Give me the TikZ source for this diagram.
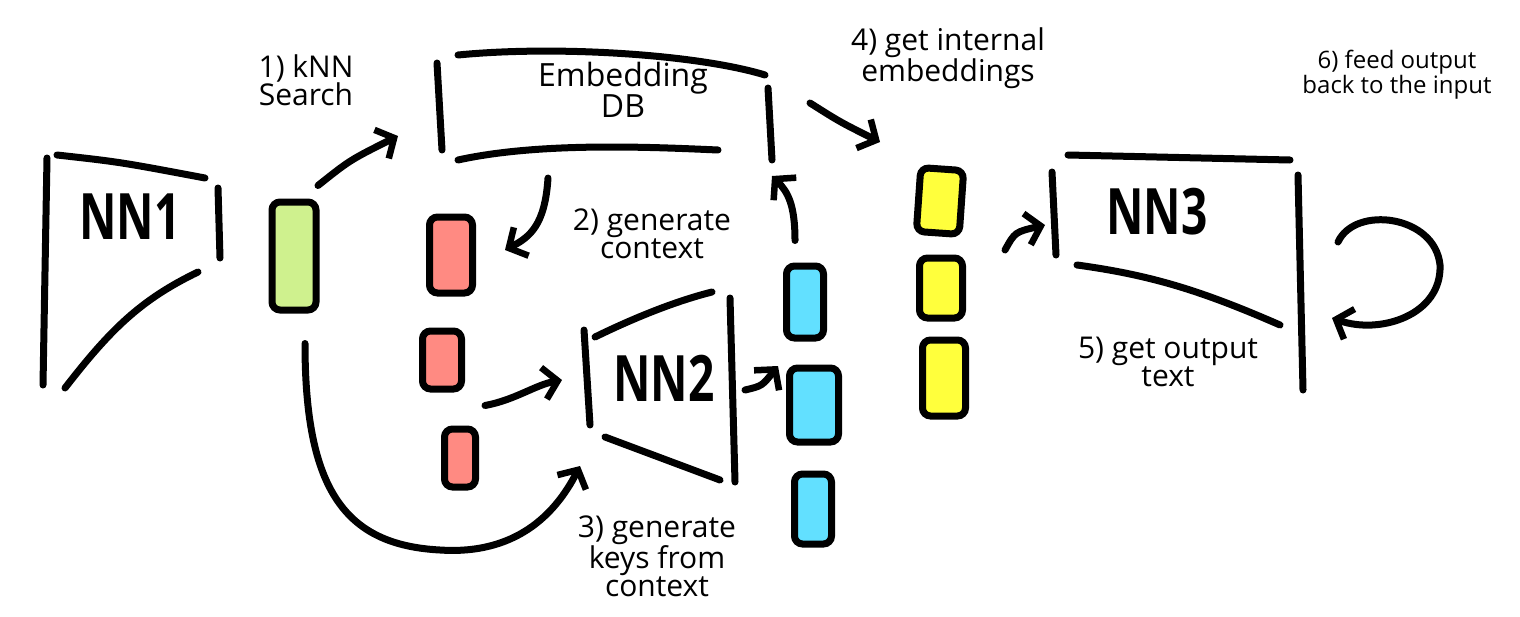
\documentclass[tikz,border=0pt]{standalone}
\usepackage{fontspec}
\setmainfont{Open Sans}
\usetikzlibrary{arrows.meta}
\definecolor{vecgreen}{HTML}{CFF18E}
\definecolor{vecred}{HTML}{FF8A82}
\definecolor{veccyan}{HTML}{62E0FF}
\definecolor{vecyellow}{HTML}{FFFF3C}
\tikzset{
  pen/.style={line width=7pt, line cap=round},
  arr/.style={pen, -{Straight Barb[length=14pt,width=32pt,line width=6.5pt]}},
  vec/.style={draw, line width=7pt, rounded corners=8pt, inner sep=0pt},
  lbl/.style={font=\fontsize{30}{28}\selectfont, align=center},
  small lbl/.style={font=\fontsize{24}{25}\selectfont, align=center},
  nnlbl/.style={font=\fontsize{64}{64}\selectfont\bfseries}
}
\newcommand{\nnname}[1]{\scalebox{0.72}[1]{#1}}
\begin{document}
\begin{tikzpicture}[x=1pt, y=-1pt]
    % Canvas with the size of the reference
    \useasboundingbox (0,0) rectangle (1520,616);

    % NN1
    \draw[pen] (47,158) -- (43,385);
    \draw[pen] (57,155) .. controls (120,162) .. (205,178);
    \draw[pen] (218,188) -- (220,258);
    \draw[pen] (198,272) .. controls (140,300) and (110,330) .. (65,388);
    \node[nnlbl] (nn1) at (130,217) {\nnname{NN1}};

    % Embedding DB
    \draw[pen] (437,63) -- (442,150);
    \draw[pen] (458,55) .. controls (560,45) and (700,55) .. (765,75);
    \draw[pen] (768,88) -- (772,160);
    \draw[pen] (458,160) .. controls (540,142) and (650,147) .. (718,150);
    \node[lbl, font=\fontsize{32}{28}\selectfont] (db) at (623,90) {Embedding\\DB};

    % NN2
    \draw[pen] (584,330) -- (590,425);
    \draw[pen] (595,337) .. controls (640,315) and (680,300) .. (712,292);
    \draw[pen] (730,298) -- (735,482);
    \draw[pen] (605,437) -- (720,480);
    \node[nnlbl] (nn2) at (664,378) {\nnname{NN2}};

    % NN3
    \draw[pen] (1052,172) -- (1056,255);
    \draw[pen] (1068,155) -- (1290,160);
    \draw[pen] (1298,175) -- (1303,390);
    \draw[pen] (1077,265) .. controls (1150,275) and (1200,290) .. (1280,325);
    \node[nnlbl] (nn3) at (1157,212) {\nnname{NN3}};

    % vectors
    \node[vec, fill=vecgreen, minimum width=44, minimum height=108] (g) at (294,256) {};
    \node[vec, fill=vecred, minimum width=43, minimum height=76] (r1) at (451,255) {};
    \node[vec, fill=vecred, minimum width=39, minimum height=58] (r2) at (442,360) {};
    \node[vec, fill=vecred, minimum width=31, minimum height=58] (r3) at (460,458) {};
    \node[vec, fill=veccyan, minimum width=37, minimum height=72] (c1) at (805,302) {};
    \node[vec, fill=veccyan, minimum width=49, minimum height=74] (c2) at (814,405) {};
    \node[vec, fill=veccyan, minimum width=37, minimum height=70] (c3) at (813,509) {};
    \node[vec, fill=vecyellow, minimum width=43, minimum height=64, rotate=-4] (y1) at (940,201) {};
    \node[vec, fill=vecyellow, minimum width=43, minimum height=60] (y2) at (941,288) {};
    \node[vec, fill=vecyellow, minimum width=43, minimum height=76] (y3) at (944,378) {};

    % arrow ends
    \coordinate (db-in) at (398,136);
    \coordinate (ctx-in) at (505,250);
    \coordinate (nn2-in) at (562,380);
    \coordinate (key-in) at (580,466);
    \coordinate (c-in) at (778,366);
    \coordinate (db-back) at (772,176);
    \coordinate (db-out) at (810,103);
    \coordinate (y-in) at (880,142);
    \coordinate (nn3-in) at (1045,225);
    \coordinate (loop) at (1332,318);

    % connectors
    \draw[arr] ([shift={(24,-13)}]g.north) .. controls (350,160) .. (db-in);
    \draw[arr] (548,178) .. controls (545,225) and (530,237) .. (ctx-in);
    \draw[arr] ([shift={(25,-20)}]r3.north) .. controls (515,400) and (535,385) .. (nn2-in);
    \draw[arr] ([shift={(11,30)}]g.south) .. controls (305,490) and (345,545) .. (440,550)
        .. controls (515,555) and (555,515) .. (key-in);
    \draw[arr] (745,390) .. controls (762,386) .. (c-in);
    \draw[arr] ([shift={(-10,-22)}]c1.north) .. controls (795,205) and (788,192) .. (db-back);
    \draw[arr] (db-out) .. controls (840,122) .. (y-in);
    \draw[arr] (1005,250) .. controls (1015,232) .. (nn3-in);
    \draw[arr] (1338,242) .. controls (1355,205) and (1435,215) .. (1440,265)
        .. controls (1442,315) and (1380,335) .. (loop);

    % step labels
    \node[lbl] (s1) at (306,80) {1) kNN\\Search};
    \node[lbl] (s2) at (652,234) {2) generate\\context};
    \node[lbl] (s3) at (657,556) {3) generate\\keys from\\context};
    \node[lbl] (s4) at (948,58) {4) get internal\\embeddings};
    \node[lbl] (s5) at (1168,362) {5) get output\\text};
    \node[small lbl] (s6) at (1397,75) {6) feed output\\back to the input};
\end{tikzpicture}
\end{document}
